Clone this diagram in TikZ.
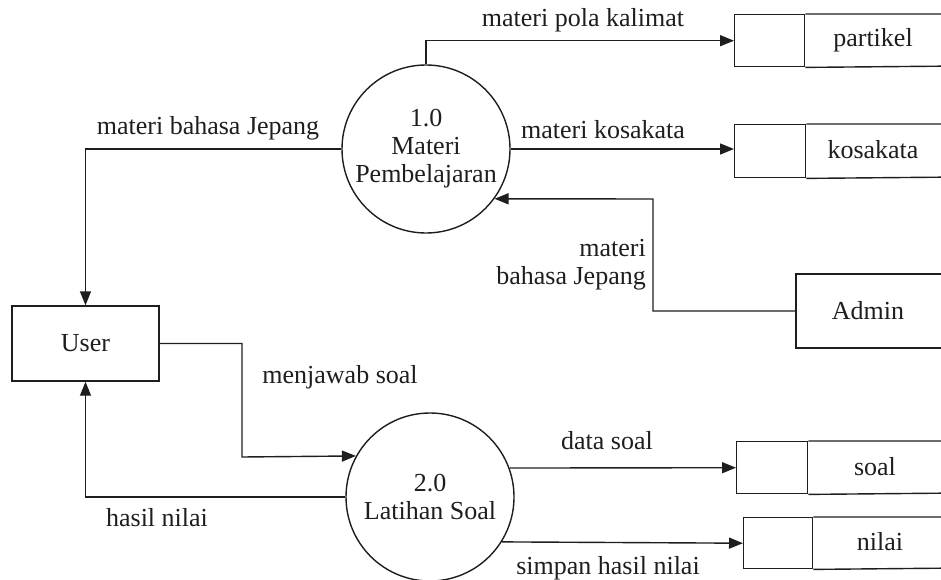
\documentclass[tikz,border=0pt]{standalone}
\usepackage{fontspec}
\setmainfont{Liberation Serif}
\usetikzlibrary{arrows.meta}
\definecolor{ink}{RGB}{30,30,30}
\begin{document}
\begin{tikzpicture}[x=1pt,y=-1pt,
  every node/.style={font=\fontsize{26}{28}\selectfont, text=ink},
  ln/.style={draw=ink, line width=1.4pt},
  arr/.style={ln, -{Triangle[length=14pt,width=11pt]}},
  proc/.style={circle, draw=ink, line width=1.4pt, minimum size=168pt, inner sep=0pt, align=center},
  ent/.style={rectangle, draw=ink, line width=1.4pt, inner sep=0pt},
  cell/.style={rectangle, draw=ink, line width=1.4pt, inner sep=0pt, anchor=north west},
  lbl/.style={inner sep=0pt}
]
\useasboundingbox (0,0) rectangle (941,580);
\clip (0,0) rectangle (941,580);

% processes
\node[proc] (c1) at (426,149) {1.0\\Materi\\Pembelajaran};
\node[proc] (c2) at (430,497) {2.0\\Latihan Soal};

% external entities
\node[ent, minimum width=147pt, minimum height=75pt] (user) at (85.5,343.5) {User};
\draw[ln] (960,274) -- (796,274) -- (796,348) -- (960,348);
\node[lbl] (admin) at (868,311) {Admin};
\coordinate (adminw) at (796,311);

% data stores
\node[cell, minimum width=70pt, minimum height=52pt] (ps) at (734,14) {};
\draw[ln] (ps.north east) -- (960,14) (ps.south east) -- (960,66);
\node[lbl] at (873,40) {partikel};

\node[cell, minimum width=71pt, minimum height=53pt] (ks) at (734,124) {};
\draw[ln] (ks.north east) -- (960,124) (ks.south east) -- (960,177);
\node[lbl] at (873,150) {kosakata};

\node[cell, minimum width=71pt, minimum height=52pt] (ss) at (736,441) {};
\draw[ln] (ss.north east) -- (960,441) (ss.south east) -- (960,493);
\node[lbl] at (875,467) {soal};

\node[cell, minimum width=69pt, minimum height=51pt] (ns) at (743,517) {};
\draw[ln] (ns.north east) -- (960,517) (ns.south east) -- (960,568);
\node[lbl] at (880,542) {nilai};

% flows
\draw[arr] (c1.north) |- (ps.west);
\node[lbl] at (583,20) {materi pola kalimat};

\draw[arr] (c1.east) -- (ks.west |- c1.east);
\node[lbl] at (603,130) {materi kosakata};

\draw[arr] (c1.west) -| (user.north);
\node[lbl] at (208,128) {materi bahasa Jepang};

\coordinate (a1) at (653,199);
\draw[arr] (adminw) -| (a1) -- (c1.-36.5);
\node[lbl, align=right, anchor=east] at (646,265) {materi\\bahasa Jepang};

\coordinate (u1) at (242,457);
\draw[arr] (user.east) -| (u1) -- (c2.151.6);
\node[lbl] at (340,377) {menjawab soal};

\draw[arr] (c2.west) -| (user.south);
\node[lbl] at (157,518) {hasil nilai};

\draw[arr] (c2.20.9) -- (ss.west);
\node[lbl] at (607,441) {data soal};

\draw[arr] (c2.-32.4) -- (ns.west);
\node[lbl] at (608,568) {simpan hasil nilai};
\end{tikzpicture}
\end{document}
